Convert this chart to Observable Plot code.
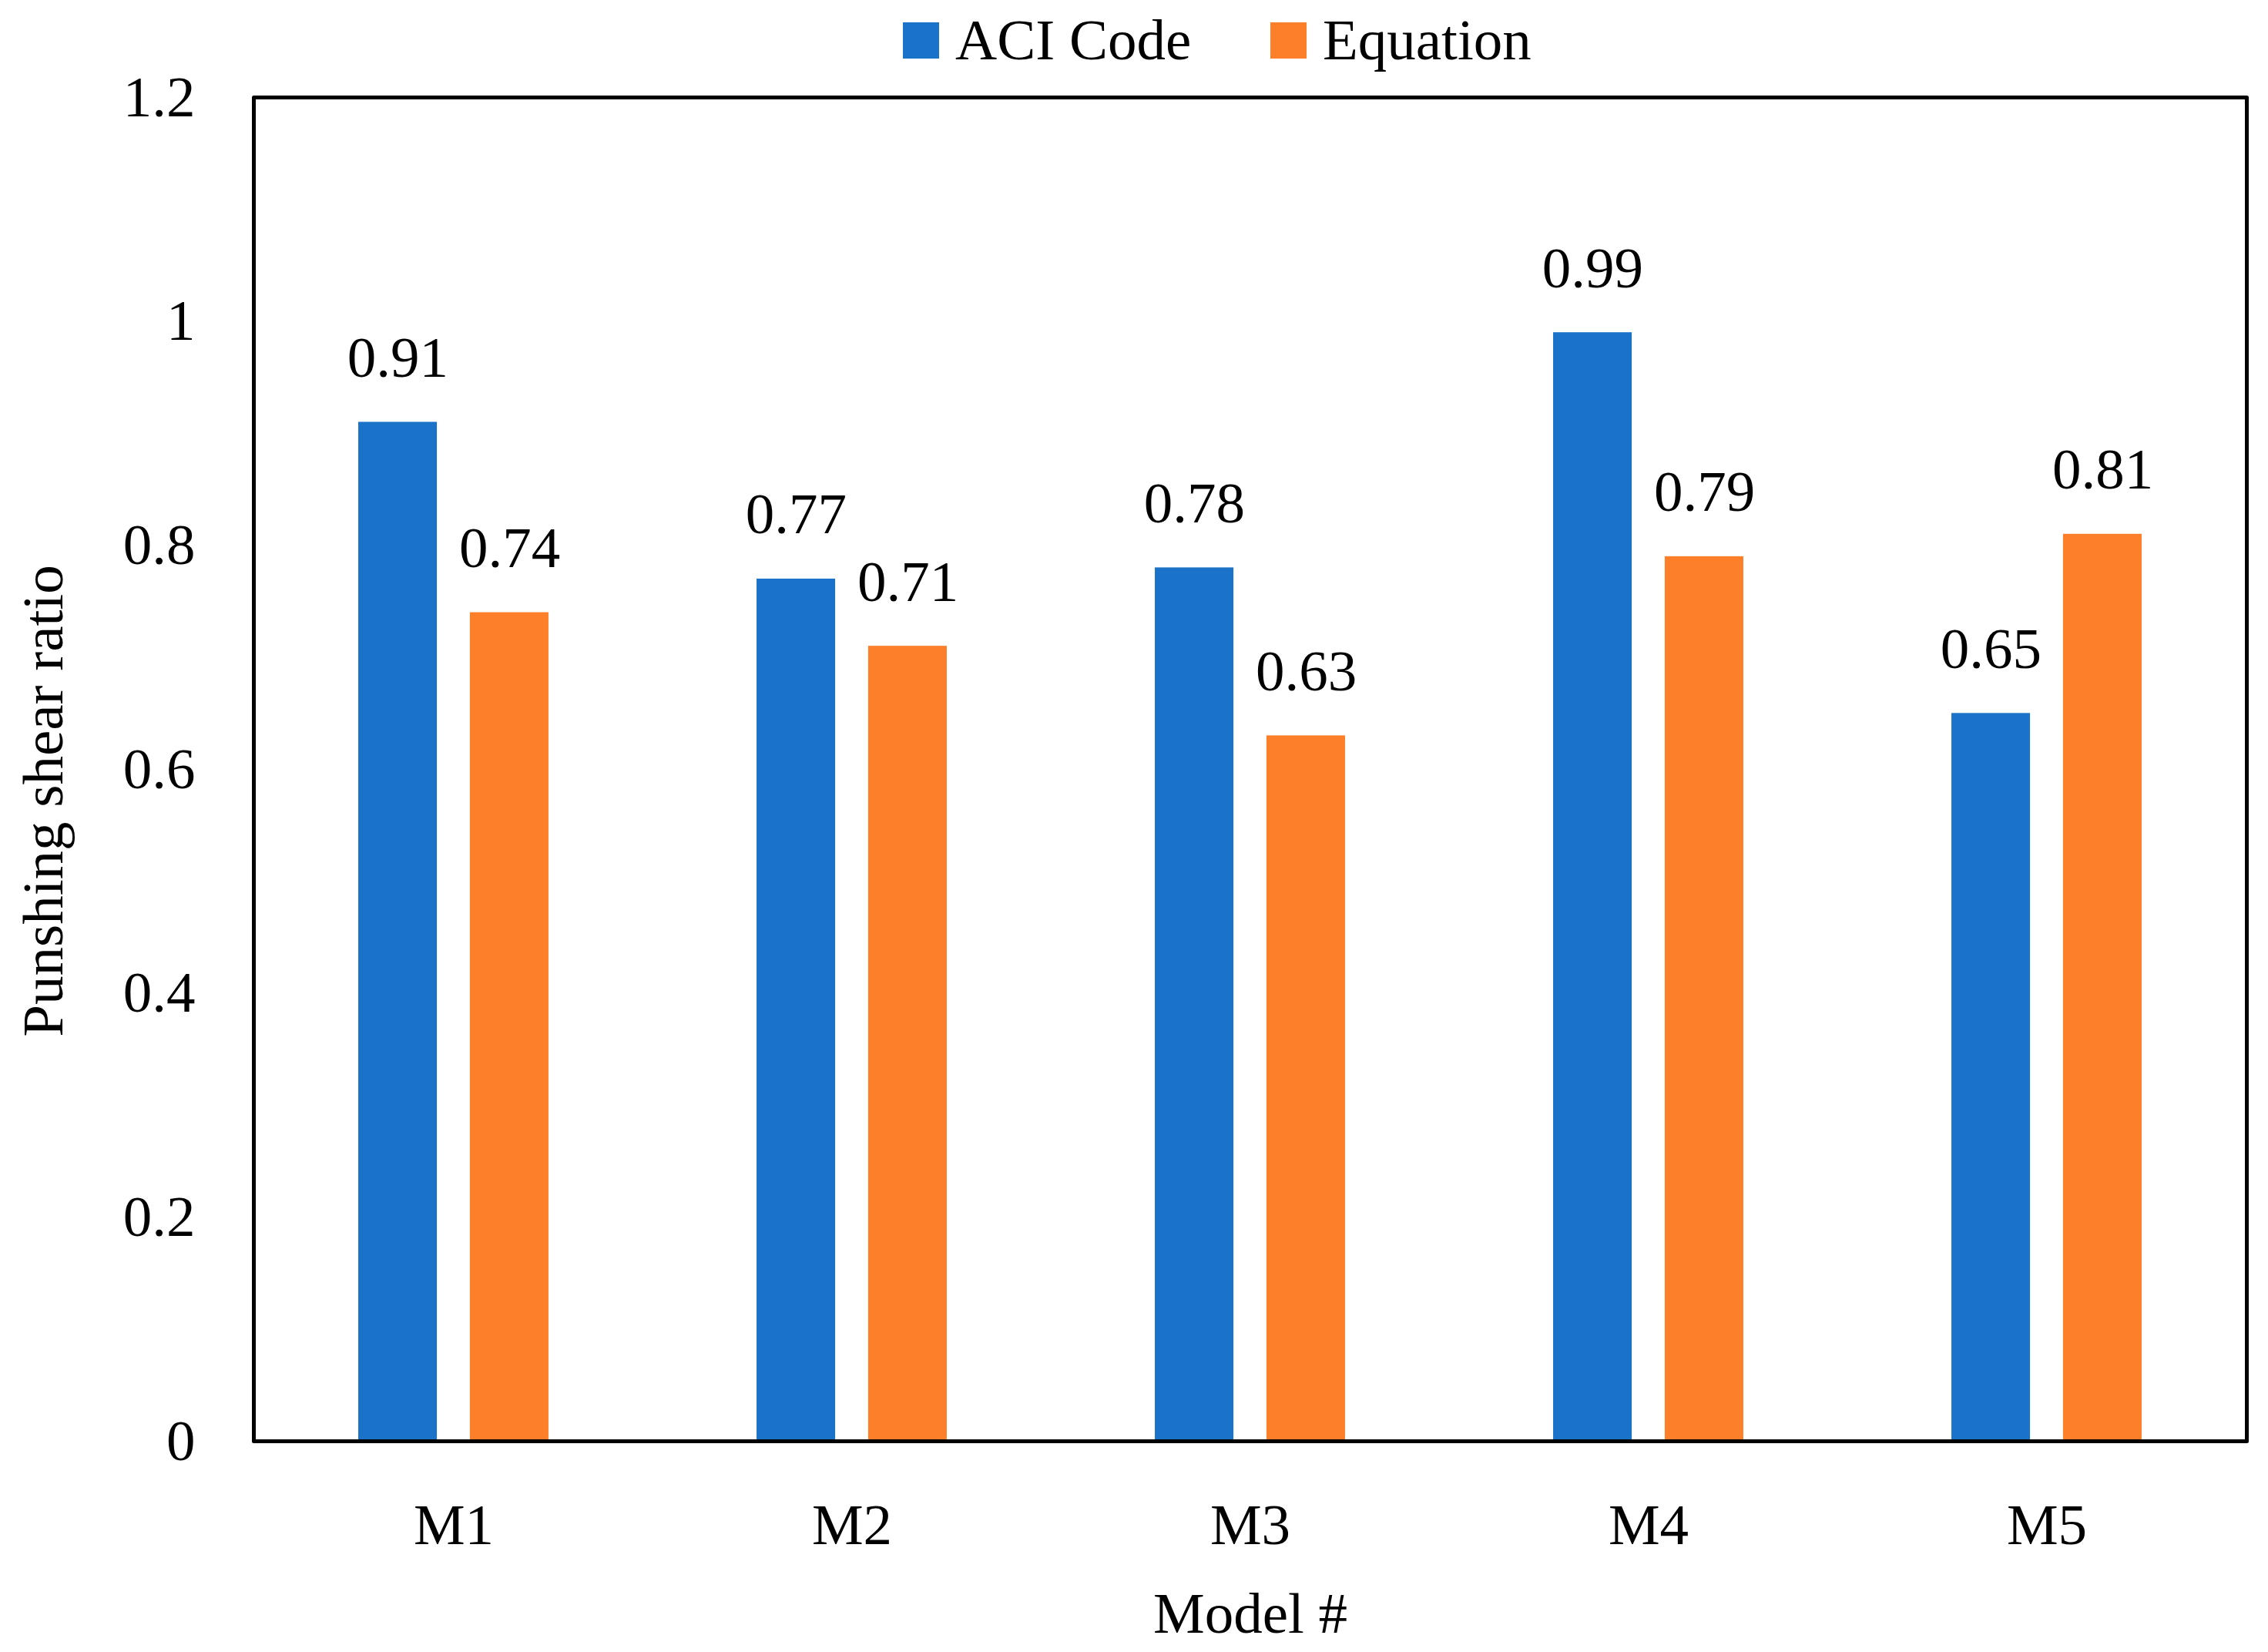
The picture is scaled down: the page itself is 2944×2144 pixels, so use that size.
<!DOCTYPE html>
<html>
<head>
<meta charset="utf-8">
<script src="https://cdn.jsdelivr.net/npm/d3@7"></script>
<script src="https://cdn.jsdelivr.net/npm/@observablehq/plot@0.6"></script>
<style>
  body { margin: 0; background: white; }
  #wrap { position: relative; width: 2944px; height: 2144px; font-family: "Liberation Serif", serif; }
  #legend {
    position: absolute; top: 9px; left: 1172px;
    display: flex; align-items: center;
    font-size: 75px; line-height: 86px; color: #000;
  }
  #legend .item { display: flex; align-items: center; }
  #legend .item:first-child { width: 477px; }
  #legend .sw { width: 47px; height: 47px; margin-right: 21px; }
</style>
</head>
<body>
<div id="wrap">
  <div id="chart"></div>
  <div id="legend"></div>
</div>
<script>
// chart values
const models = ["M1", "M2", "M3", "M4", "M5"]
const aciCode = [0.91, 0.77, 0.78, 0.99, 0.65]
const equation = [0.74, 0.71, 0.63, 0.79, 0.81]
const seriesNames = ["ACI Code", "Equation"]
const seriesColors = ["#1a73c8", "#fe7f29"]
const yTicks = [0, 0.2, 0.4, 0.6, 0.8, 1, 1.2]

// long table for the marks
const data = models.flatMap((m, i) => [
  {model: m, series: seriesNames[0], value: aciCode[i]},
  {model: m, series: seriesNames[1], value: equation[i]}
])

const width = 2944
const height = 2144
const marginLeft = 329
const marginRight = 28
const marginTop = 126
const marginBottom = 274
const fs = 75

// each model band holds two bars side by side
const band = (width - marginLeft - marginRight) / models.length
const outer = band * 0.261   // gap from band edge to the outer bar
const inner = band * 0.541   // from band edge to the far edge of the other bar
const shift = band * 0.1405  // bar centre offset from band centre

const legend = document.querySelector("#legend")
seriesNames.forEach((s, i) => {
  const item = document.createElement("div")
  item.className = "item"
  item.innerHTML = `<span class="sw" style="background:${seriesColors[i]}"></span><span>${s}</span>`
  legend.append(item)
})

const plot = Plot.plot({
  width,
  height,
  marginLeft,
  marginRight,
  marginTop,
  marginBottom,
  style: {fontFamily: "Liberation Serif, serif", fontSize: fs + "px", color: "#000", background: "white"},
  x: {domain: models, padding: 0, label: null},
  y: {domain: [0, 1.2], label: null},
  color: {domain: seriesNames, range: seriesColors},
  marks: [
    Plot.barY(data.filter(d => d.series === seriesNames[0]), {
      x: "model", y: "value", fill: "series", insetLeft: outer, insetRight: inner
    }),
    Plot.barY(data.filter(d => d.series === seriesNames[1]), {
      x: "model", y: "value", fill: "series", insetLeft: inner, insetRight: outer
    }),
    Plot.text(data.filter(d => d.series === seriesNames[0]), {
      x: "model", y: "value", text: d => d.value.toFixed(2),
      dx: -shift, dy: -59, lineAnchor: "bottom", fontSize: fs, fill: "#000"
    }),
    Plot.text(data.filter(d => d.series === seriesNames[1]), {
      x: "model", y: "value", text: d => d.value.toFixed(2),
      dx: shift, dy: -59, lineAnchor: "bottom", fontSize: fs, fill: "#000"
    }),
    Plot.axisY({ticks: yTicks, tickSize: 0, tickPadding: 76, tickFormat: d => String(d), fontSize: fs, label: null}),
    Plot.axisX({tickSize: 0, tickPadding: 80, fontSize: fs, label: null}),
    Plot.frame({stroke: "#000", strokeWidth: 5, strokeLinejoin: "round"}),
    // axis titles
    Plot.text(["Punshing shear ratio"], {
      frameAnchor: "left", textAnchor: "middle", rotate: -90, dx: -273, dy: 41, fontSize: fs, fill: "#000"
    }),
    Plot.text(["Model #"], {
      frameAnchor: "bottom", lineAnchor: "bottom", dy: 248, fontSize: fs, fill: "#000"
    })
  ]
})

const div = document.querySelector("#chart")
div.innerText = ''
div.append(plot)
</script>
</body>
</html>
